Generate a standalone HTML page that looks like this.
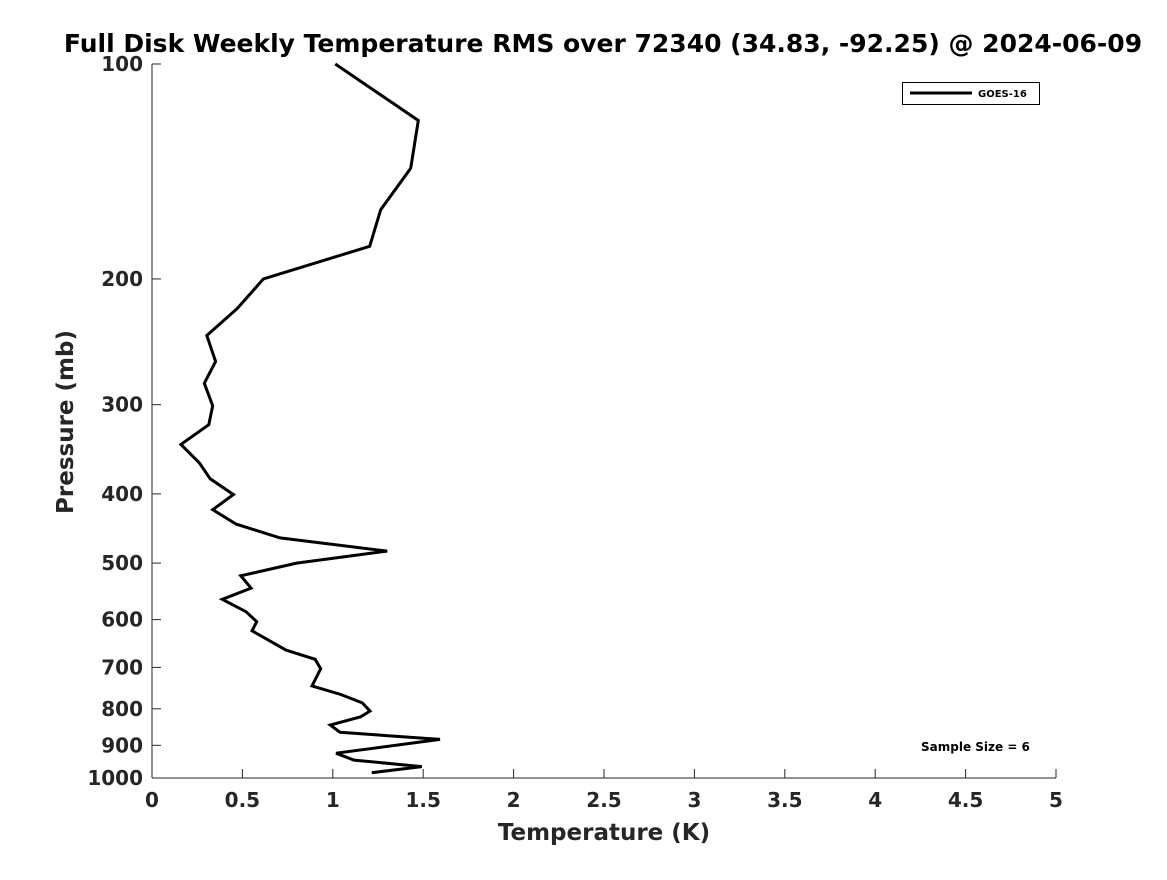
<!DOCTYPE html>
<html><head><meta charset="utf-8"><style>
body{margin:0;background:#fff;}
text{font-family:"DejaVu Sans","Liberation Sans",sans-serif;font-weight:bold;}
</style></head><body>
<svg id="chart" width="1167" height="875" viewBox="0 0 1167 875" xmlns="http://www.w3.org/2000/svg">
<rect width="1167" height="875" fill="#fff"/>
<text x="603" y="52" text-anchor="middle" font-size="25" fill="#000">Full Disk Weekly Temperature RMS over 72340 (34.83, -92.25) @ 2024-06-09</text>
<g id="axes"></g>
<polyline id="line" fill="none" stroke="#000" stroke-width="3" stroke-linejoin="miter"/>
<g>
<rect x="902.5" y="82.5" width="137" height="22" fill="#fff" stroke="#000" stroke-width="1"/>
<line x1="910" y1="93" x2="972" y2="93" stroke="#000" stroke-width="3"/>
<text x="978" y="97" font-size="10" fill="#000">GOES-16</text>
</g>
<text x="921" y="751" font-size="12" fill="#000">Sample Size = 6</text>
<text x="604" y="840" text-anchor="middle" font-size="23" fill="#262626">Temperature (K)</text>
<text transform="translate(73,422) rotate(-90)" text-anchor="middle" font-size="23" fill="#262626">Pressure (mb)</text>
</svg>
<script>
const temps = [1.014,1.473,1.431,1.265,1.204,0.616,0.472,0.303,0.352,0.289,0.336,0.314,0.160,0.262,0.322,0.450,0.336,0.465,0.708,1.301,0.800,0.491,0.548,0.389,0.520,0.579,0.553,0.741,0.902,0.933,0.885,1.044,1.163,1.206,1.154,0.986,1.040,1.593,1.018,1.117,1.492,1.215];
const pressures = [100,120,140,160,180,200,220,240,261,280,301,320,341,362,381,401,421,441,461,481,500,521,542,562,585,604,622,662,682,703,743,764,785,806,821,843,863,883,923,944,964,983];
const xTicks = [0,0.5,1,1.5,2,2.5,3,3.5,4,4.5,5];
const xTickLabels = ["0","0.5","1","1.5","2","2.5","3","3.5","4","4.5","5"];
const yTicks = [100,200,300,400,500,600,700,800,900,1000];
const yTickLabels = ["100","200","300","400","500","600","700","800","900","1000"];

const X0=152,X1=1056,Y0=64,Y1=778;
function xs(v){return X0+(v-0)/(5-0)*(X1-X0);}
function ys(p){return Y0+(Math.log10(p)-2)/(3-2)*(Y1-Y0);}
const NS="http://www.w3.org/2000/svg";
const ax=document.getElementById('axes');
function mk(t,a){const e=document.createElementNS(NS,t);for(const k in a)e.setAttribute(k,a[k]);return e;}
const yl=mk('line',{x1:X0,y1:Y0,x2:X0,y2:Y1,stroke:'#262626','stroke-width':1});


ax.appendChild(yl);
const xl=mk('line',{x1:X0,y1:Y1,x2:X1,y2:Y1,stroke:'#262626','stroke-width':1});


ax.appendChild(xl);
xTicks.forEach((v,i)=>{
  const x=xs(v);
  const t=mk('line',{x1:x,y1:Y1,x2:x,y2:Y1-9,stroke:'#262626','stroke-width':1});
  
  
  ax.appendChild(t);
  const l=mk('text',{x:x,y:Y1+29,'text-anchor':'middle','font-size':20,fill:'#262626'});
  
  
  l.textContent=xTickLabels[i];ax.appendChild(l);
});
yTicks.forEach((v,i)=>{
  const y=ys(v);
  const t=mk('line',{x1:X0,y1:y,x2:X0+9,y2:y,stroke:'#262626','stroke-width':1});
  
  
  ax.appendChild(t);
  const l=mk('text',{x:X0-9,y:y+7,'text-anchor':'end','font-size':20,fill:'#262626'});
  
  
  l.textContent=yTickLabels[i];ax.appendChild(l);
});
document.getElementById('line').setAttribute('points',temps.map((t,i)=>xs(t).toFixed(1)+','+ys(pressures[i]).toFixed(1)).join(' '));
</script>
</body></html>
